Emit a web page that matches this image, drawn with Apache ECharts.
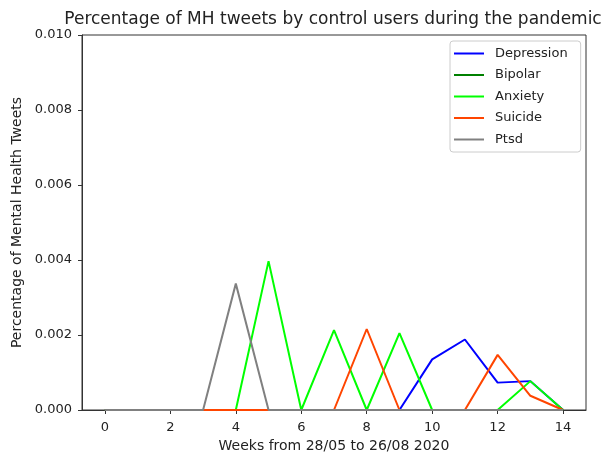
<!DOCTYPE html>
<html>
<head>
<meta charset="utf-8">
<script src="https://cdn.jsdelivr.net/npm/echarts@6/dist/echarts.min.js"></script>
<style>html,body{margin:0;padding:0;background:#fff}#c{width:602px;height:452px}</style>
</head>
<body>
<div id="c"></div>
<script>
var weeks = [0,1,2,3,4,5,6,7,8,9,10,11,12,13,14];
var xTicks = [0,2,4,6,8,10,12,14];
var depression = [0,0,0,0,0,0,0,0,0,0,0.00135,0.00188,0.00073,0.00077,0];
var bipolar    = [0,0,0,0,0,0,0,0,0,0,0,0,0,0,0];
var anxiety    = [0,0,0,0,0,0.00397,0,0.00213,0,0.00205,0,0,0,0.00077,0];
var suicide    = [0,0,0,0,0,0,0,0,0.00216,0,0,0,0.00147,0.00038,0];
var ptsd       = [0,0,0,0,0.00337,0,0,0,0,0,0,0,0,0,0];

var names = ['Depression','Bipolar','Anxiety','Suicide','Ptsd'];
var values = [depression, bipolar, anxiety, suicide, ptsd];
var colors = ['#0000ff','#008000','#00ff00','#ff4500','#808080'];

function pairs(arr){ return weeks.map(function(w,i){ return [w, arr[i]]; }); }

var font = 'DejaVu Sans';
var chart = echarts.init(document.getElementById('c'), null, {renderer:'canvas'});
chart.setOption({
  animation: false,
  backgroundColor: '#fff',
  title: {
    text: 'Percentage of MH tweets by control users during the pandemic',
    left: 328, top: 6, textAlign: 'center',
    textStyle: {fontFamily: font, fontSize: 17, fontWeight: 'normal', color: '#222'}
  },
  legend: {
    orient: 'vertical', left: 450, top: 41,
    data: names,
    icon: 'rect',
    itemWidth: 30, itemHeight: 2, itemGap: 8.5,
    padding: [6, 13, 6, 4],
    borderColor: '#cccccc', borderWidth: 1, borderRadius: 3,
    backgroundColor: 'rgba(255,255,255,0.8)',
    textStyle: {fontFamily: font, fontSize: 13, color: '#222', padding: [0,0,0,6]}
  },
  grid: {left: 82, right: 16, top: 35, bottom: 42, show: true, borderColor: '#333', borderWidth: 1, backgroundColor: 'transparent', outerBoundsMode: 'none', containLabel: false},
  xAxis: {
    type: 'value', min: -0.7, max: 14.7,
    name: 'Weeks from 28/05 to 26/08 2020', nameLocation: 'middle', nameGap: 29,
    nameTextStyle: {fontFamily: font, fontSize: 14, color: '#222'},
    axisLine: {onZero: false, lineStyle: {color: '#333', width: 1}},
    axisTick: {show: true, length: 4, lineStyle: {color: '#333'}, customValues: xTicks},
    axisLabel: {fontFamily: font, fontSize: 13, color: '#222', margin: 11, customValues: xTicks},
    splitLine: {show: false}
  },
  yAxis: {
    type: 'value', min: 0, max: 0.01, interval: 0.002,
    name: 'Percentage of Mental Health Tweets', nameLocation: 'middle', nameGap: 56,
    nameTextStyle: {fontFamily: font, fontSize: 14, color: '#222'},
    axisLine: {show: true, onZero: false, lineStyle: {color: '#333', width: 1}},
    axisTick: {show: true, length: 4, lineStyle: {color: '#333'}},
    axisLabel: {fontFamily: font, fontSize: 13, color: '#222', margin: 10, formatter: function(v){ return v.toFixed(3); }},
    splitLine: {show: false}
  },
  series: names.map(function(n, i){
    return {
      name: n, type: 'line', data: pairs(values[i]),
      symbol: 'none', showSymbol: false,
      color: colors[i],
      lineStyle: {color: colors[i], width: 2},
      itemStyle: {color: colors[i]}
    };
  })
});
</script>
</body>
</html>
